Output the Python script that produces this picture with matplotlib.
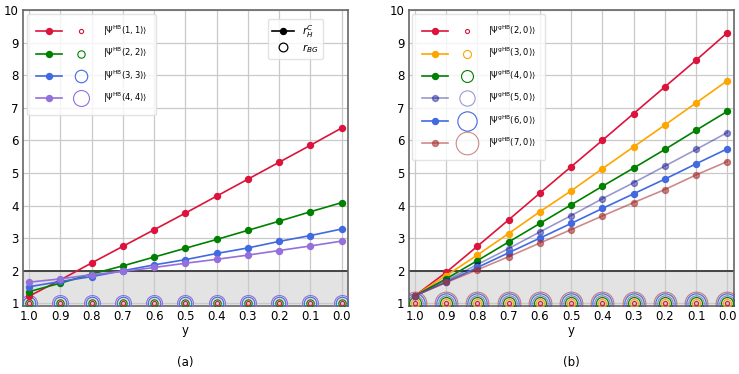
import matplotlib
matplotlib.use("Agg")
import matplotlib.pyplot as plt
from matplotlib.lines import Line2D
from matplotlib.legend_handler import HandlerTuple
import numpy as np

# ---------------- data ----------------
y_vals = [1.0, 0.9, 0.8, 0.7, 0.6, 0.5, 0.4, 0.3, 0.2, 0.1, 0.0]

labels_a = [r'$|\Psi^{\mathrm{HB}}(1, 1)\rangle$', r'$|\Psi^{\mathrm{HB}}(2, 2)\rangle$',
            r'$|\Psi^{\mathrm{HB}}(3, 3)\rangle$', r'$|\Psi^{\mathrm{HB}}(4, 4)\rangle$']
rhc_a = [
    [1.22, 1.72, 2.24, 2.75, 3.26, 3.77, 4.29, 4.81, 5.33, 5.85, 6.38],
    [1.36, 1.62, 1.90, 2.15, 2.42, 2.69, 2.96, 3.24, 3.52, 3.81, 4.09],
    [1.51, 1.67, 1.82, 2.00, 2.18, 2.34, 2.53, 2.70, 2.90, 3.08, 3.28],
    [1.65, 1.75, 1.88, 1.98, 2.10, 2.23, 2.35, 2.48, 2.62, 2.76, 2.91],
]
rbg_a = [1.0, 1.0, 1.0, 1.0]
rbg_size_a = [3.0, 5.3, 9.0, 11.5]

labels_b = [r'$|\Psi^{\mathrm{gHB}}(2, 0)\rangle$', r'$|\Psi^{\mathrm{gHB}}(3, 0)\rangle$',
            r'$|\Psi^{\mathrm{gHB}}(4, 0)\rangle$', r'$|\Psi^{\mathrm{gHB}}(5, 0)\rangle$',
            r'$|\Psi^{\mathrm{gHB}}(6, 0)\rangle$', r'$|\Psi^{\mathrm{gHB}}(7, 0)\rangle$']
rhc_b = [
    [1.23, 1.95, 2.75, 3.56, 4.38, 5.19, 6.00, 6.82, 7.64, 8.46, 9.30],
    [1.23, 1.85, 2.48, 3.14, 3.81, 4.45, 5.13, 5.80, 6.47, 7.15, 7.83],
    [1.23, 1.75, 2.31, 2.88, 3.45, 4.02, 4.59, 5.15, 5.72, 6.31, 6.89],
    [1.23, 1.69, 2.19, 2.68, 3.19, 3.69, 4.21, 4.70, 5.21, 5.72, 6.24],
    [1.23, 1.65, 2.10, 2.55, 3.00, 3.45, 3.91, 4.36, 4.81, 5.28, 5.74],
    [1.23, 1.64, 2.03, 2.43, 2.85, 3.26, 3.68, 4.09, 4.49, 4.94, 5.35],
]
rbg_b = [1.0, 1.0, 1.0, 1.0, 1.0, 1.0]
rbg_size_b = [2.9, 5.8, 8.6, 11.0, 13.9, 16.3]

colors_a = ['crimson', 'green', 'royalblue', 'mediumpurple']
alphas_a = [1, 1, 1, 1]
colors_b = ['crimson', 'orange', 'green', 'darkblue', 'royalblue', 'brown']
alphas_b = [1, 1, 1, 0.4, 1, 0.55]

# ---------------- figure ----------------
fig = plt.figure(figsize=(7.39, 3.74), dpi=100)
ax_a = fig.add_axes([0.0311, 0.182, 0.4398, 0.7914])
ax_b = fig.add_axes([0.5529, 0.182, 0.4398, 0.7914])

TICK_FS = 8.5


def draw(ax, rhc, rbg, sizes, colors, alphas, labels, tag, extra_legend):
    ax.set_xlim(1.02, -0.02)
    ax.set_ylim(0.92, 10)
    ax.axhspan(0.5, 2, color='#e3e3e3', zorder=0)
    ax.axhline(2, color='#444444', lw=1.4, zorder=1)
    ax.grid(True, color='#c9c9c9', lw=0.9, zorder=0.5)
    ax.set_axisbelow(True)
    handles = []
    order = list(range(len(rhc)))
    # circles (largest first)
    for i in sorted(order, key=lambda k: -sizes[k]):
        ax.plot(y_vals, [rbg[i]] * len(y_vals), linestyle='none', marker='o',
                markersize=sizes[i], mfc='none', mec=colors[i], mew=0.8,
                alpha=alphas[i], zorder=3)
    for i in order:
        ax.plot(y_vals, rhc[i], color=colors[i], lw=1.2, marker='o', markersize=4.3,
                alpha=alphas[i], zorder=4)
        ln = Line2D([], [], color=colors[i], lw=1.2, marker='o', markersize=4.3,
                    alpha=alphas[i])
        cc = Line2D([], [], linestyle='none', marker='o', markersize=sizes[i],
                    mfc='none', mec=colors[i], mew=0.8, alpha=alphas[i])
        handles.append((ln, cc))
    leg = ax.legend(handles, labels, handler_map={tuple: HandlerTuple(ndivide=None, pad=0.7)},
                    loc='upper left', bbox_to_anchor=(0.012, 0.985), borderaxespad=0,
                    fontsize=6, handlelength=7.0, handletextpad=1.0, labelspacing=0.97,
                    borderpad=1.1, framealpha=0.8, edgecolor='#dddddd', fancybox=True)
    if extra_legend:
        ax.add_artist(leg)
        h1 = Line2D([], [], color='black', lw=1.2, marker='o', markersize=4.3)
        h2 = Line2D([], [], linestyle='none', marker='o', markersize=6.3, mfc='none',
                    mec='black', mew=0.9)
        ax.legend([h1, h2], [r'$r_H^C$', r'$r_{BG}$'], loc='upper right',
                  bbox_to_anchor=(0.923, 0.970), borderaxespad=0, fontsize=7.5,
                  handlelength=2.1, handletextpad=0.8, labelspacing=0.2,
                  borderpad=0.4, framealpha=0.8, edgecolor='#dddddd')
    ax.set_xticks(y_vals)
    ax.set_xticklabels([f'{v:.1f}' for v in y_vals])
    ax.set_yticks(range(1, 11))
    ax.tick_params(length=0, pad=3, labelsize=TICK_FS)
    for s in ax.spines.values():
        s.set_color('#666666')
        s.set_linewidth(1.2)
    ax.set_xlabel('y', fontsize=TICK_FS, labelpad=1)
    ax.text(0.5, -0.17, tag, transform=ax.transAxes, ha='center', va='top',
            fontsize=TICK_FS)


draw(ax_a, rhc_a, rbg_a, rbg_size_a, colors_a, alphas_a, labels_a, '(a)', True)
draw(ax_b, rhc_b, rbg_b, rbg_size_b, colors_b, alphas_b, labels_b, '(b)', False)

fig.savefig('out.png', dpi=100)
